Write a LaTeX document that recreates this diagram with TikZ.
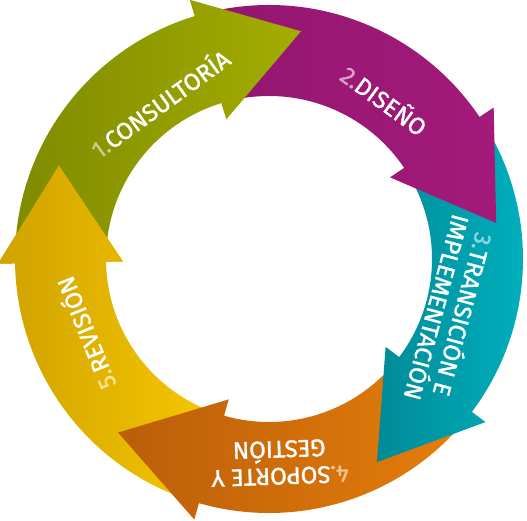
\documentclass[tikz,border=0pt]{standalone}
\usepackage{fontspec}
\setmainfont{Fira Sans}
\newfontfamily\stagefont{Fira Sans}[FakeBold=1.3]
\usepackage{tikz}
\usetikzlibrary{scopes}

\definecolor{greenL}{HTML}{7F8B00}
\definecolor{greenR}{HTML}{A3AD00}
\definecolor{purpleL}{HTML}{93166F}
\definecolor{purpleR}{HTML}{A31A7A}
\definecolor{tealL}{HTML}{008A97}
\definecolor{tealR}{HTML}{00B3C1}
\definecolor{orangeL}{HTML}{BB5E0A}
\definecolor{orangeR}{HTML}{E67E0A}
\definecolor{yellowL}{HTML}{CFA200}
\definecolor{yellowR}{HTML}{F8C800}
\definecolor{num1}{HTML}{C6CC88}
\definecolor{num2}{HTML}{D9A0C8}
\definecolor{num3}{HTML}{88D6DE}
\definecolor{num4}{HTML}{F2C290}
\definecolor{num5}{HTML}{F8E294}

% one arrow of the cycle: body from angle #1 down to #2, head after #2
\newcommand{\cyclearrow}[2]{%
  (#1:254pt) arc[start angle=#1, end angle=#2, radius=254pt]
  -- (#2:271pt) -- ({#2-25}:230pt) -- (#2:146pt) -- (#2:163pt)
  arc[start angle=#2, end angle=#1, radius=163pt] -- cycle}

\begin{document}
\begin{tikzpicture}[
    x=1pt, y=1pt,
    stage/.style={text=white, align=center,
        font=\stagefont\fontsize{24}{27}\selectfont},
    consult/.style={left color=greenL, right color=greenR},
    design/.style={left color=purpleL, right color=purpleR},
    transit/.style={left color=tealL, right color=tealR},
    support/.style={left color=orangeL, right color=orangeR},
    review/.style={left color=yellowL, right color=yellowR},
]
\useasboundingbox (0,0) rectangle (527,520);

\begin{scope}[shift={(269,261)}]
    % the five arrows, each head over the start of the next
    \shade[review] \cyclearrow{253}{181};
    \shade[support] \cyclearrow{-38}{-106};
    \shade[transit] \cyclearrow{33}{-37};
    \shade[design] \cyclearrow{106}{34};
    \shade[consult] \cyclearrow{180}{107};
    % head of 5 again, over the start of 1
    {
        \clip (181:271pt) -- (156:230pt) -- (181:146pt) -- cycle;
        \shade[review] \cyclearrow{253}{181};
    }
\end{scope}

% labels
\begin{scope}[shift={(269,261)}]
    \node[stage, rotate=36] (consultoria) at (125:191pt)
        {{\color{num1}1.}CONSULTORÍA};
    \node[stage, rotate=-36] (diseno) at (54:197pt)
        {{\color{num2}2.}DISEÑO};
    \node[stage, rotate=-105] (transicion) at (-16:190pt)
        {{\color{num3}3.}TRANSICIÓN E\\IMPLEMENTACIÓN};
    \node[stage, rotate=-178] (soporte) at (-87:204pt)
        {{\color{num4}4.}SOPORTE Y\\GESTIÓN};
    \node[stage, rotate=112] (revision) at (202:199pt)
        {{\color{num5}5.}REVISIÓN};
\end{scope}

\end{tikzpicture}
\end{document}
